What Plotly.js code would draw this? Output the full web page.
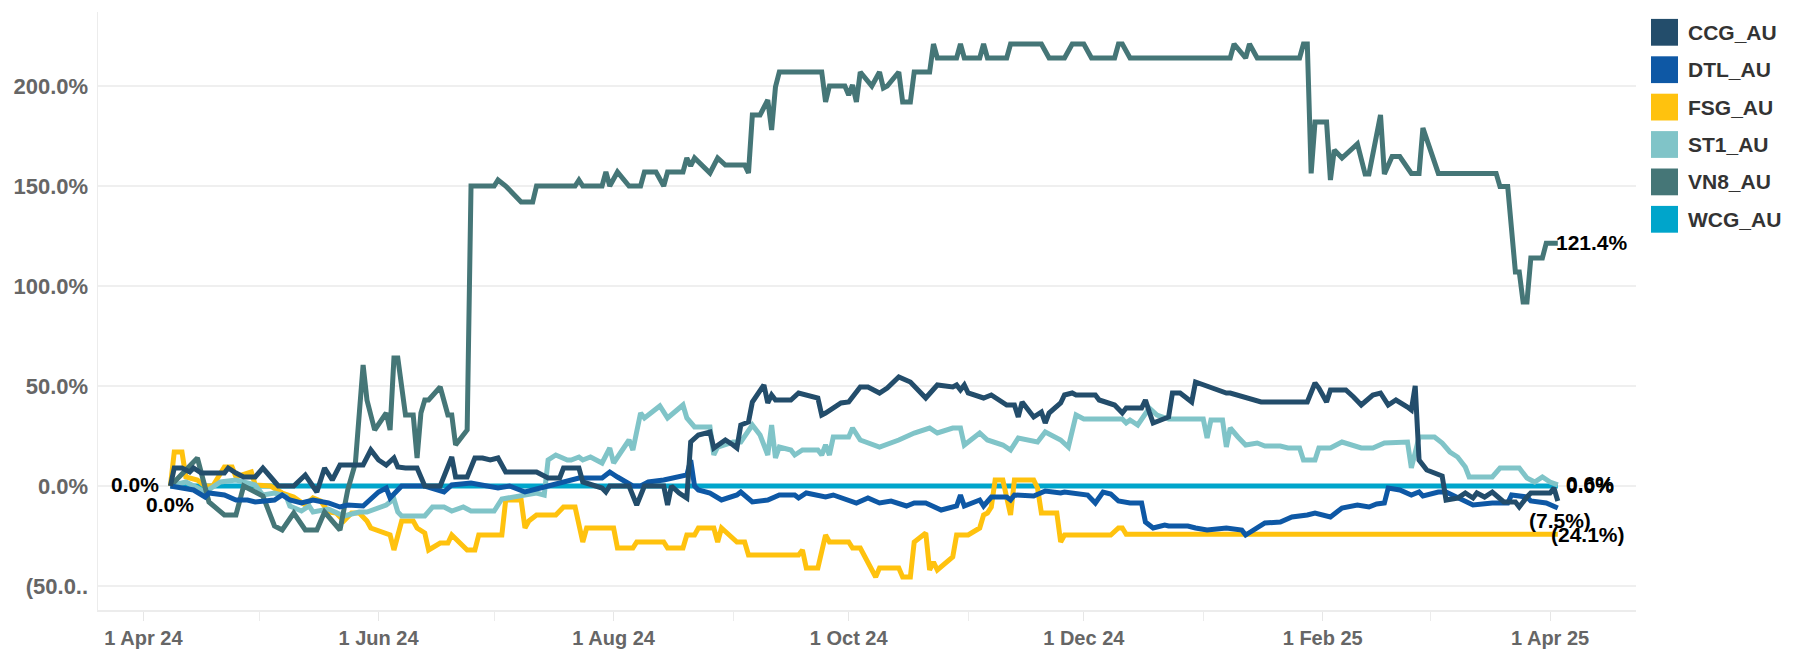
<!DOCTYPE html>
<html>
<head>
<meta charset="utf-8">
<script src="https://cdn.plot.ly/plotly-3.0.1.min.js"></script>
<style>
html,body{margin:0;padding:0;background:#ffffff;}
#chart{width:1793px;height:650px;}
</style>
</head>
<body>
<div id="chart"></div>
<script>
// ---------- data (percent change since 8 Apr 2024) ----------
const seriesNames = ["CCG_AU", "DTL_AU", "FSG_AU", "ST1_AU", "VN8_AU", "WCG_AU"];
const seriesColors = ["#234D6B", "#0E58A5", "#FFC20E", "#80C4C8", "#457677", "#00A5CB"];

const ccgDates = ["2024-04-08","2024-04-09","2024-04-11","2024-04-13","2024-04-14","2024-04-16","2024-04-22","2024-04-23","2024-04-25","2024-04-27","2024-04-30","2024-05-02","2024-05-04","2024-05-06","2024-05-10","2024-05-13","2024-05-16","2024-05-18","2024-05-20","2024-05-22","2024-05-28","2024-05-30","2024-06-01","2024-06-03","2024-06-05","2024-06-06","2024-06-08","2024-06-11","2024-06-13","2024-06-17","2024-06-20","2024-06-21","2024-06-24","2024-06-26","2024-06-28","2024-06-30","2024-07-02","2024-07-04","2024-07-12","2024-07-15","2024-07-18","2024-07-19","2024-07-23","2024-07-24","2024-07-29","2024-07-30","2024-07-31","2024-08-05","2024-08-07","2024-08-09","2024-08-14","2024-08-15","2024-08-16","2024-08-18","2024-08-20","2024-08-21","2024-08-23","2024-08-26","2024-08-27","2024-08-29","2024-08-30","2024-09-01","2024-09-02","2024-09-03","2024-09-05","2024-09-06","2024-09-09","2024-09-10","2024-09-11","2024-09-12","2024-09-16","2024-09-18","2024-09-20","2024-09-23","2024-09-24","2024-09-25","2024-09-29","2024-10-01","2024-10-04","2024-10-06","2024-10-09","2024-10-11","2024-10-14","2024-10-17","2024-10-21","2024-10-24","2024-10-28","2024-10-29","2024-10-30","2024-10-31","2024-11-01","2024-11-05","2024-11-07","2024-11-11","2024-11-13","2024-11-14","2024-11-15","2024-11-18","2024-11-20","2024-11-21","2024-11-22","2024-11-25","2024-11-26","2024-11-28","2024-11-29","2024-12-04","2024-12-05","2024-12-09","2024-12-11","2024-12-12","2024-12-16","2024-12-17","2024-12-18","2024-12-19","2024-12-23","2024-12-24","2024-12-26","2024-12-29","2024-12-30","2025-01-01","2025-01-03","2025-01-07","2025-01-08","2025-01-12","2025-01-16","2025-01-28","2025-01-30","2025-01-31","2025-02-02","2025-02-03","2025-02-07","2025-02-09","2025-02-11","2025-02-14","2025-02-16","2025-02-18","2025-02-20","2025-02-23","2025-02-24","2025-02-25","2025-02-26","2025-02-28","2025-03-03","2025-03-04","2025-03-05","2025-03-08","2025-03-10","2025-03-12","2025-03-13","2025-03-15","2025-03-17","2025-03-20","2025-03-23","2025-03-24","2025-03-26","2025-03-27","2025-04-01","2025-04-02","2025-04-03"];
const ccgValues = [0,9,9,7,9,6.5,6.5,9,6.5,4.5,4.5,9,4.5,0,0,5.5,-3,9,3,10.5,10.5,18,13,10.5,14,9.5,9,9,0,0,14.5,4.5,4.5,14,14,13,14,7,7,4,4,9,9,2,-1,-3,0,0,-9.5,0,0,-9.5,0,-3.5,-6,22,25.5,27,19,22,23,20.5,19,30.5,32,42,50.5,41.5,45.5,43,43,46.5,45.5,44,35.5,36.5,41.5,42,49.5,49.5,46.5,49,54.5,52,44,50.5,49.5,50.5,48,50.5,46.5,44,45.5,40.5,40.5,34.5,42,34.5,37,31.5,36.5,41.5,45.5,46.5,45.5,45.5,43,40.5,36.5,39,39,43,37,31.5,34.5,46.5,46.5,42,52,50.5,49,46.5,46.5,44.5,42,42,51.5,49,42,48,48,44.5,40.5,45.5,46.5,40.5,43,39.5,38,50,13,8,5.5,5,-7,-6,-3.5,-6,-3.5,-5.5,-3,-8,-8,-10.5,-5.5,-3.5,-3.5,-1,-7.5];

const dtlDates = ["2024-04-08","2024-04-11","2024-04-14","2024-04-17","2024-04-18","2024-04-22","2024-04-25","2024-04-28","2024-04-30","2024-05-05","2024-05-07","2024-05-09","2024-05-12","2024-05-15","2024-05-19","2024-05-22","2024-05-24","2024-05-28","2024-06-01","2024-06-03","2024-06-04","2024-06-07","2024-06-13","2024-06-18","2024-06-20","2024-06-25","2024-06-28","2024-07-02","2024-07-05","2024-07-09","2024-07-13","2024-07-16","2024-07-20","2024-07-23","2024-07-29","2024-07-31","2024-08-02","2024-08-06","2024-08-08","2024-08-10","2024-08-14","2024-08-16","2024-08-18","2024-08-20","2024-08-21","2024-08-22","2024-08-23","2024-08-26","2024-08-29","2024-09-02","2024-09-03","2024-09-05","2024-09-06","2024-09-10","2024-09-13","2024-09-17","2024-09-18","2024-09-20","2024-09-25","2024-09-27","2024-10-03","2024-10-06","2024-10-09","2024-10-12","2024-10-16","2024-10-18","2024-10-21","2024-10-25","2024-10-29","2024-10-30","2024-10-31","2024-11-04","2024-11-05","2024-11-07","2024-11-11","2024-11-12","2024-11-13","2024-11-18","2024-11-20","2024-11-21","2024-11-25","2024-11-26","2024-12-02","2024-12-04","2024-12-06","2024-12-08","2024-12-10","2024-12-13","2024-12-16","2024-12-17","2024-12-19","2024-12-22","2024-12-23","2024-12-28","2024-12-30","2025-01-02","2025-01-07","2025-01-11","2025-01-12","2025-01-14","2025-01-17","2025-01-21","2025-01-24","2025-01-28","2025-01-30","2025-02-03","2025-02-06","2025-02-10","2025-02-13","2025-02-15","2025-02-17","2025-02-18","2025-02-21","2025-02-24","2025-02-26","2025-02-27","2025-03-03","2025-03-05","2025-03-08","2025-03-12","2025-03-17","2025-03-21","2025-03-22","2025-03-26","2025-03-27","2025-03-31","2025-04-03"];
const dtlValues = [0,-1,-2,-5.5,-3.5,-4.5,-7,-7,-8,-7,-4.5,-7,-8.5,-7,-8.5,-10.5,-9.5,-10,-3,-1,-6,0,0,-3,0.5,1.5,0.5,-1,0,-3,-1,0.5,2,4,4,7,4.5,0,0,2,3,4,4.5,5.5,13,0,-2,-3.5,-7,-4.5,-3,-6,-8,-7,-4.5,-4.5,-6,-3.5,-5.5,-4.5,-8.5,-6,-8.5,-7.5,-10,-8.5,-8.5,-12,-10,-4.5,-10,-7,-10,-5.5,-5.5,-7,-4.5,-5,-3.5,-2.5,-3.5,-3,-4.5,-8.5,-3,-4,-7.5,-8.5,-8.5,-18,-21,-19.5,-20,-20,-21,-22,-21,-22,-24.5,-22,-18.5,-18,-15.5,-14.5,-13.5,-15.5,-11,-9.5,-10.5,-9,-8.5,-1,-2,-4.5,-3,-5,-3,-3,-5.5,-9.5,-8.5,-8.5,-4.5,-5.5,-7.5,-8.5,-11];

const fsgDates = ["2024-04-08","2024-04-09","2024-04-11","2024-04-12","2024-04-15","2024-04-17","2024-04-19","2024-04-22","2024-04-24","2024-04-25","2024-04-29","2024-04-30","2024-05-04","2024-05-07","2024-05-10","2024-05-13","2024-05-15","2024-05-17","2024-05-19","2024-05-21","2024-05-23","2024-05-25","2024-05-27","2024-05-29","2024-05-30","2024-06-03","2024-06-04","2024-06-05","2024-06-07","2024-06-10","2024-06-11","2024-06-13","2024-06-14","2024-06-17","2024-06-19","2024-06-20","2024-06-24","2024-06-26","2024-06-27","2024-07-03","2024-07-04","2024-07-08","2024-07-09","2024-07-10","2024-07-12","2024-07-17","2024-07-19","2024-07-22","2024-07-24","2024-07-25","2024-08-01","2024-08-02","2024-08-06","2024-08-07","2024-08-14","2024-08-15","2024-08-19","2024-08-20","2024-08-22","2024-08-23","2024-08-27","2024-08-28","2024-08-29","2024-09-02","2024-09-04","2024-09-05","2024-09-18","2024-09-19","2024-09-20","2024-09-23","2024-09-25","2024-09-26","2024-10-01","2024-10-02","2024-10-04","2024-10-08","2024-10-09","2024-10-14","2024-10-15","2024-10-17","2024-10-18","2024-10-21","2024-10-22","2024-10-23","2024-10-24","2024-10-28","2024-10-29","2024-11-01","2024-11-04","2024-11-05","2024-11-06","2024-11-07","2024-11-08","2024-11-10","2024-11-11","2024-11-12","2024-11-13","2024-11-18","2024-11-19","2024-11-20","2024-11-24","2024-11-25","2024-11-26","2024-12-08","2024-12-10","2024-12-11","2024-12-12","2025-04-03"];
const fsgValues = [0,17,17,4.5,3,0,0,9.5,9.5,4.5,7,0.5,0,-3.5,-5.5,-9.5,-6,-7.5,-13,-13.5,-17.5,-13.5,-13.5,-17.5,-21,-23.5,-24.5,-32,-17.5,-17.5,-21,-23.5,-32,-28.5,-28.5,-24.5,-32,-32,-24.5,-24.5,-7,-7,-21,-17.5,-14.5,-14.5,-10.5,-10.5,-28,-21,-21,-31,-31,-28,-28,-31,-31,-24.5,-24.5,-21,-21,-28,-21,-28,-28,-34.5,-34.5,-32,-41,-41,-24.5,-28,-28,-31,-31,-45.5,-41,-41,-45.5,-45.5,-28,-23.5,-42,-38,-42,-35.5,-24.5,-24.5,-21,-14.5,-13.5,-10.5,3,3,-7,-14.5,3,3,-1,-13.5,-13.5,-28,-24.5,-24.5,-21,-21,-24.1,-24.1];

const st1Dates = ["2024-04-08","2024-04-12","2024-04-17","2024-04-21","2024-04-25","2024-04-30","2024-05-02","2024-05-05","2024-05-08","2024-05-09","2024-05-12","2024-05-14","2024-05-15","2024-05-19","2024-05-23","2024-05-27","2024-05-29","2024-06-01","2024-06-03","2024-06-05","2024-06-06","2024-06-07","2024-06-13","2024-06-15","2024-06-18","2024-06-20","2024-06-23","2024-06-25","2024-07-01","2024-07-03","2024-07-08","2024-07-12","2024-07-14","2024-07-15","2024-07-17","2024-07-20","2024-07-21","2024-07-23","2024-07-24","2024-07-26","2024-07-29","2024-07-31","2024-08-01","2024-08-05","2024-08-06","2024-08-08","2024-08-09","2024-08-13","2024-08-15","2024-08-19","2024-08-20","2024-08-22","2024-08-26","2024-08-27","2024-08-28","2024-09-01","2024-09-03","2024-09-05","2024-09-06","2024-09-08","2024-09-10","2024-09-11","2024-09-12","2024-09-13","2024-09-16","2024-09-17","2024-09-19","2024-09-23","2024-09-24","2024-09-25","2024-09-26","2024-09-27","2024-10-01","2024-10-02","2024-10-04","2024-10-09","2024-10-14","2024-10-18","2024-10-22","2024-10-24","2024-10-28","2024-10-30","2024-10-31","2024-11-04","2024-11-06","2024-11-10","2024-11-12","2024-11-14","2024-11-19","2024-11-21","2024-11-25","2024-11-27","2024-11-29","2024-12-01","2024-12-11","2024-12-12","2024-12-13","2024-12-15","2024-12-18","2024-12-20","2024-12-23","2025-01-01","2025-01-02","2025-01-03","2025-01-06","2025-01-07","2025-01-08","2025-01-10","2025-01-12","2025-01-15","2025-01-17","2025-01-21","2025-01-23","2025-01-26","2025-01-27","2025-01-30","2025-01-31","2025-02-03","2025-02-06","2025-02-11","2025-02-14","2025-02-17","2025-02-18","2025-02-20","2025-02-23","2025-02-24","2025-02-26","2025-03-02","2025-03-04","2025-03-06","2025-03-08","2025-03-10","2025-03-11","2025-03-17","2025-03-19","2025-03-24","2025-03-26","2025-03-28","2025-03-30","2025-04-01","2025-04-03"];
const st1Values = [0,2,-3,2,3,0.5,-4.5,-3.5,-5,-10,-12.5,-10,-13,-11.5,-15,-13,-13,-10.5,-9.5,-6.5,-13,-15,-15,-10.5,-10.5,-12.5,-10.5,-12.5,-12.5,-6.5,-4.5,-3.5,-4.5,13,15.5,13,13,14.5,13,14.5,11.5,19,11.5,23,18,36.5,34,40,34,40.5,34,29.5,29.5,15.5,19.5,22,22,28,30.5,25.5,15.5,30.5,14,19.5,18,15.5,18,18,15.5,20.5,15.5,24.5,24.5,29,23,19.5,23,26.5,29,26.5,29,29,20.5,26.5,23,20.5,18,24,22,27,23,19.5,35.5,33.5,33.5,31.5,33,30.5,39,35.5,33.5,33.5,24,33,33,19.5,29,24.5,20.5,21.5,20,20,19,19,13,13,19,19,22,19,19,21.5,21.5,22,22,9,24.5,24.5,21.5,17,14.5,9.5,4.5,4.5,9,9,4,2,4.5,2,0.6];

const vn8Dates = ["2024-04-08","2024-04-15","2024-04-18","2024-04-22","2024-04-25","2024-04-27","2024-05-02","2024-05-05","2024-05-07","2024-05-10","2024-05-13","2024-05-16","2024-05-18","2024-05-22","2024-05-23","2024-05-24","2024-05-26","2024-05-28","2024-05-29","2024-05-31","2024-06-03","2024-06-04","2024-06-05","2024-06-06","2024-06-08","2024-06-10","2024-06-11","2024-06-12","2024-06-13","2024-06-14","2024-06-17","2024-06-19","2024-06-20","2024-06-21","2024-06-24","2024-06-25","2024-07-01","2024-07-02","2024-07-04","2024-07-08","2024-07-11","2024-07-12","2024-07-22","2024-07-23","2024-07-24","2024-07-29","2024-07-30","2024-07-31","2024-08-02","2024-08-05","2024-08-08","2024-08-09","2024-08-12","2024-08-14","2024-08-15","2024-08-19","2024-08-20","2024-08-21","2024-08-22","2024-08-26","2024-08-28","2024-08-30","2024-09-04","2024-09-05","2024-09-06","2024-09-08","2024-09-10","2024-09-11","2024-09-12","2024-09-13","2024-09-24","2024-09-25","2024-09-26","2024-09-30","2024-10-01","2024-10-02","2024-10-03","2024-10-04","2024-10-07","2024-10-09","2024-10-10","2024-10-11","2024-10-14","2024-10-15","2024-10-17","2024-10-18","2024-10-22","2024-10-23","2024-10-24","2024-10-29","2024-10-30","2024-10-31","2024-11-04","2024-11-05","2024-11-06","2024-11-11","2024-11-12","2024-11-20","2024-11-22","2024-11-26","2024-11-28","2024-12-01","2024-12-03","2024-12-09","2024-12-10","2024-12-11","2024-12-13","2025-01-08","2025-01-09","2025-01-12","2025-01-13","2025-01-15","2025-01-26","2025-01-27","2025-01-28","2025-01-29","2025-01-30","2025-02-02","2025-02-03","2025-02-04","2025-02-06","2025-02-10","2025-02-12","2025-02-13","2025-02-16","2025-02-17","2025-02-19","2025-02-21","2025-02-24","2025-02-26","2025-02-27","2025-03-03","2025-03-18","2025-03-19","2025-03-21","2025-03-23","2025-03-24","2025-03-25","2025-03-26","2025-03-27","2025-03-30","2025-03-31","2025-04-03"];
const vn8Values = [0,14,-8,-14.5,-14.5,0,-5,-20,-22,-13.5,-22,-22,-13,-22,-12,-2,11.5,60.5,43,28,36.5,28,64,64,35.5,35.5,14,36.5,43,43,49.5,35.5,35.5,20.5,28,150,150,153,150,142,142,150,150,153,150,150,157,150,157,150,150,157,157,150,157,157,164,160,164,156.5,164,160.5,160.5,156.5,185.5,185.5,193,178,199.5,207,207,192,200,200,195.5,200.5,192,207,200,207,199,200,207,192,192,207,207,221,214,214,221,214,214,221,214,214,221,221,214,214,221,221,214,214,221,221,214,214,221,214,221,214,214,221,221,156.3,182,182,153,168,164,171,156,156,185.5,156,164.7,164.7,156.3,156.3,179,156.3,156.3,149.7,149.7,107,107,92,92,114,114,121.4,121.4];

const wcgDates = ["2024-04-08","2025-04-03"];
const wcgValues = [0,0];

// y-axis tick labels
const yTickValues = [-50, 0, 50, 100, 150, 200];
const yTickLabels = ["(50.0..", "0.0%", "50.0%", "100.0%", "150.0%", "200.0%"];

// ---------- build ----------
const allDates  = [ccgDates, dtlDates, fsgDates, st1Dates, vn8Dates, wcgDates];
const allValues = [ccgValues, dtlValues, fsgValues, st1Values, vn8Values, wcgValues];
const drawOrder = [5, 2, 3, 4, 1, 0]; // WCG at the bottom, CCG on top

const FONT = "Liberation Sans, Arial, Helvetica, sans-serif";

const traces = drawOrder.map(i => ({
  type: "scatter",
  mode: "lines",
  name: seriesNames[i],
  x: allDates[i],
  y: allValues[i],
  line: {color: seriesColors[i], width: 5},
  hoverinfo: "skip",
  showlegend: false
}));

function fmtPct(v) {
  const s = Math.abs(v).toFixed(1) + "%";
  return v < 0 ? "(" + s + ")" : s;
}

const labelFont = {family: FONT, size: 21, color: "#000000", weight: "bold"};
const annotations = [];

// start labels
annotations.push({x: ccgDates[0], y: ccgValues[0], xref: "x", yref: "y", text: fmtPct(ccgValues[0]),
  showarrow: false, xanchor: "right", yanchor: "middle", xshift: -9, yshift: 2, font: labelFont});
annotations.push({x: dtlDates[0], y: dtlValues[0], xref: "x", yref: "y", text: fmtPct(dtlValues[0]),
  showarrow: false, xanchor: "center", yanchor: "top", xshift: 0, yshift: -5, font: labelFont});

// end labels
function endLabel(i, opts) {
  const d = allDates[i], v = allValues[i];
  annotations.push(Object.assign({x: d[d.length - 1], y: v[v.length - 1], xref: "x", yref: "y",
    text: fmtPct(v[v.length - 1]), showarrow: false, font: labelFont}, opts));
}
endLabel(4, {xanchor: "left", yanchor: "middle", xshift: -4, yshift: 1});   // VN8
endLabel(5, {xanchor: "left", yanchor: "middle", xshift: 6, yshift: 1});    // WCG
endLabel(3, {xanchor: "left", yanchor: "middle", xshift: 6, yshift: 1});    // ST1
endLabel(0, {xanchor: "center", yanchor: "top", xshift: 2, yshift: -6});    // CCG
endLabel(2, {xanchor: "left", yanchor: "middle", xshift: -9, yshift: 0});   // FSG

// custom legend with square swatches
const shapes = [];
// dashed zero reference line
shapes.push({type: "line", xref: "paper", x0: 0, x1: 1, yref: "y", y0: 0, y1: 0,
  line: {color: "#b8b8b8", width: 1.3, dash: "dash"}, layer: "below"});

seriesNames.forEach((name, i) => {
  const cy = -(20.3 + 37.4 * i);
  shapes.push({type: "rect", xref: "paper", yref: "paper", xsizemode: "pixel", ysizemode: "pixel",
    xanchor: 1, yanchor: 1, x0: 15, x1: 42, y0: cy - 13.4, y1: cy + 13.4,
    fillcolor: seriesColors[i], line: {width: 0}});
  annotations.push({xref: "paper", yref: "paper", x: 1, y: 1, xshift: 50, yshift: cy,
    xanchor: "left", yanchor: "middle", text: name, showarrow: false,
    font: {family: FONT, size: 21, color: "#333333", weight: "bold"}});
});

const layout = {
  width: 1793,
  height: 650,
  margin: {l: 98, r: 157, t: 12, b: 40, pad: 0},
  paper_bgcolor: "#ffffff",
  plot_bgcolor: "#ffffff",
  showlegend: false,
  font: {family: FONT},
  xaxis: {
    type: "date",
    range: ["2024-03-20 05:00", "2025-04-23 07:00"],
    tick0: "2024-04-01",
    dtick: "M2",
    tickformat: "%-d %b %y",
    ticks: "outside",
    ticklen: 9,
    tickwidth: 1,
    tickcolor: "#e6e6e6",
    minor: {dtick: "M1", ticks: "outside", ticklen: 9, tickwidth: 1, tickcolor: "#ececec", showgrid: false},
    showgrid: false,
    zeroline: false,
    showline: true,
    linecolor: "#ececec",
    linewidth: 1.5,
    tickfont: {family: FONT, size: 20, color: "#666666", weight: "bold"},
    fixedrange: true
  },
  yaxis: {
    range: [-62, 237],
    tickvals: yTickValues,
    ticktext: yTickLabels,
    showgrid: true,
    gridcolor: "#efefef",
    gridwidth: 1.5,
    zeroline: false,
    showline: true,
    linecolor: "#ececec",
    linewidth: 1.5,
    ticks: "",
    ticklabelstandoff: 4,
    tickfont: {family: FONT, size: 22, color: "#666666", weight: "bold"},
    fixedrange: true
  },
  shapes: shapes,
  annotations: annotations
};

Plotly.newPlot("chart", traces, layout, {displayModeBar: false, staticPlot: true});
</script>
</body>
</html>
